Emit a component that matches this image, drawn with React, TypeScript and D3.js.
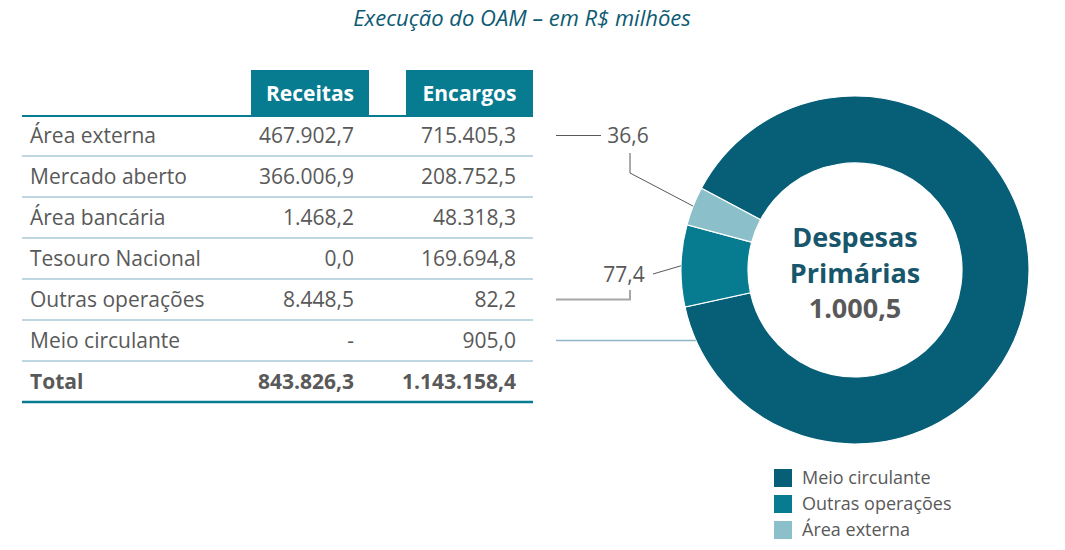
import React from "react";
import * as d3 from "d3";

const title = "Execução do OAM – em R$ milhões";
const columns = ["Receitas", "Encargos"];
const categories = ["Área externa", "Mercado aberto", "Área bancária", "Tesouro Nacional", "Outras operações", "Meio circulante"];
const receitas = [467902.7, 366006.9, 1468.2, 0.0, 8448.5, null];
const encargos = [715405.3, 208752.5, 48318.3, 169694.8, 82.2, 905.0];
const totalLabel = "Total";
const totals = [843826.3, 1143158.4];

const despesasLabels = ["Meio circulante", "Outras operações", "Área externa"];
const despesasValues = [905.0, 77.4, 36.6];
const despesasTotal = 1000.5;
const centerTitle = ["Despesas", "Primárias"];

const W = 1065;
const H = 550;
const FONT = "'Open Sans', 'Noto Sans', sans-serif";
const GRAY = "#595959";
const colors = ["#065e77", "#077b90", "#8bbfca"];

const locale = d3.formatLocale({ decimal: ",", thousands: ".", grouping: [3], currency: ["R$", ""] });
const fmt = locale.format(",.1f");

const App = () => {
  const rows = [...categories, totalLabel];
  const y = d3.scaleBand().domain(rows).range([115, 402]);
  const colRight = d3.scaleOrdinal<string, number>().domain(columns).range([354, 516]);
  const colBox = d3.scaleOrdinal<string, [number, number]>().domain(columns).range([[251, 369], [406, 533]]);

  // donut
  const cx = 855, cy = 270, rOut = 174, rIn = 107;
  const pie = d3.pie<number>().sort(null).value((d) => d)
    .startAngle(-62 * Math.PI / 180).endAngle(-62 * Math.PI / 180 + 2 * Math.PI);
  const arcs = pie(despesasValues);
  const arc = d3.arc<d3.PieArcDatum<number>>().innerRadius(rIn).outerRadius(rOut);
  const edge = (a: number) => [cx + rOut * Math.sin(a), cy - rOut * Math.cos(a)];
  const mid = (d: d3.PieArcDatum<number>) => (d.startAngle + d.endAngle) / 2;

  const rowMid = (c: string) => (y(c) as number) + y.bandwidth() / 2;
  const yExt = rowMid("Área externa");
  const yOut = rowMid("Outras operações");
  const yMeio = rowMid("Meio circulante");

  const pExt = edge(mid(arcs[2]));
  const pOut = edge(mid(arcs[1]));
  const meioX = cx - Math.sqrt(rOut * rOut - (yMeio - cy) * (yMeio - cy));

  return (
    <svg width={W} height={H} style={{ position: "absolute", left: 0, top: 0 }} fontFamily={FONT}>
      <text x={522} y={26} textAnchor="middle" fontStyle="italic" fontSize={22} fill="#0d5a73">{title}</text>

      {/* table header */}
      {columns.map((c) => {
        const [x0, x1] = colBox(c);
        return (
          <g key={c}>
            <rect x={x0} y={70} width={x1 - x0} height={46} fill="#077b8f" />
            <text x={(x0 + x1) / 2} y={101} textAnchor="middle" fontWeight="bold" fontSize={21} fill="#fff">{c}</text>
          </g>
        );
      })}
      <line x1={22} x2={533} y1={116} y2={116} stroke="#077b8f" strokeWidth={2} />

      {/* rows */}
      {categories.map((c, i) => (
        <g key={c}>
          <text x={30} y={rowMid(c)} dy="0.35em" fontSize={21} fill={GRAY}>{c}</text>
          <text x={colRight("Receitas")} y={rowMid(c)} dy="0.35em" textAnchor="end" fontSize={21} fill={GRAY}>
            {receitas[i] == null ? "-" : fmt(receitas[i] as number)}
          </text>
          <text x={colRight("Encargos")} y={rowMid(c)} dy="0.35em" textAnchor="end" fontSize={21} fill={GRAY}>
            {fmt(encargos[i])}
          </text>
          <line x1={22} x2={533} y1={(y(c) as number) + y.bandwidth()} y2={(y(c) as number) + y.bandwidth()}
            stroke="#a9cad6" strokeWidth={1.5} />
        </g>
      ))}
      <text x={30} y={rowMid(totalLabel)} dy="0.35em" fontSize={21} fontWeight="bold" fill={GRAY}>{totalLabel}</text>
      {totals.map((t, i) => (
        <text key={i} x={colRight(columns[i])} y={rowMid(totalLabel)} dy="0.35em" textAnchor="end" fontSize={21} fontWeight="bold" fill={GRAY}>
          {fmt(t)}
        </text>
      ))}
      <line x1={22} x2={533} y1={402} y2={402} stroke="#077b8f" strokeWidth={2.5} />

      {/* donut */}
      <g transform={`translate(${cx},${cy})`}>
        {arcs.map((a, i) => (
          <path key={i} d={arc(a) as string} fill={colors[i]} stroke="#fff" strokeWidth={1.2} />
        ))}
      </g>
      <text x={cx} y={247} textAnchor="middle" fontWeight="bold" fontSize={27} fill="#17566b">{centerTitle[0]}</text>
      <text x={cx} y={283} textAnchor="middle" fontWeight="bold" fontSize={27} fill="#17566b">{centerTitle[1]}</text>
      <text x={cx} y={318} textAnchor="middle" fontWeight="bold" fontSize={27} fill={GRAY}>{fmt(despesasTotal)}</text>

      {/* leaders */}
      <line x1={556} x2={601} y1={yExt} y2={yExt} stroke={GRAY} strokeWidth={1} />
      <text x={628} y={yExt} dy="0.35em" textAnchor="middle" fontSize={21} fill={GRAY}>{fmt(despesasValues[2])}</text>
      <polyline points={`630,153 630,173 ${pExt[0]},${pExt[1]}`} fill="none" stroke={GRAY} strokeWidth={1} />

      <text x={624} y={275} dy="0.35em" textAnchor="middle" fontSize={21} fill={GRAY}>{fmt(despesasValues[1])}</text>
      <line x1={653} y1={274} x2={pOut[0]} y2={pOut[1]} stroke={GRAY} strokeWidth={1} />
      <polyline points={`556,${yOut} 630,${yOut} 630,290`} fill="none" stroke="#a6a6a6" strokeWidth={2} />

      <line x1={556} x2={meioX} y1={yMeio} y2={yMeio} stroke="#8fb7c6" strokeWidth={1.5} />

      {/* legend */}
      {despesasLabels.map((l, i) => (
        <g key={l} transform={`translate(774,${469 + i * 26})`}>
          <rect width={18} height={18} fill={colors[i]} />
          <text x={28} y={9} dy="0.35em" fontSize={18} fill={GRAY}>{l}</text>
        </g>
      ))}
    </svg>
  );
};

export default App;
